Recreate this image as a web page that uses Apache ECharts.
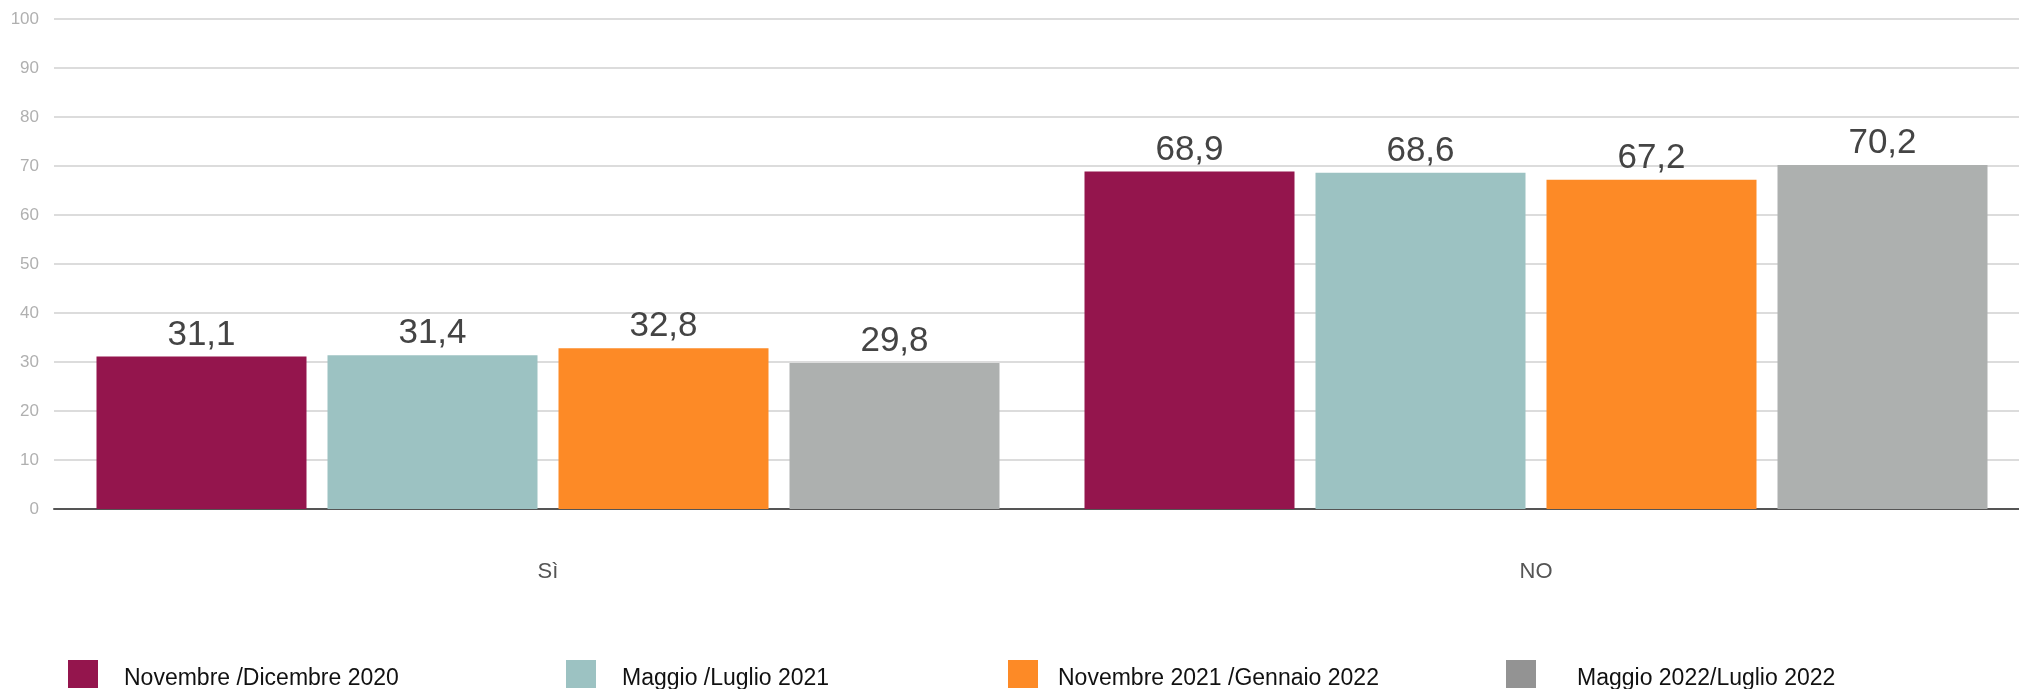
<!DOCTYPE html>
<html>
<head>
<meta charset="utf-8">
<script src="https://cdn.jsdelivr.net/npm/echarts@6/dist/echarts.min.js"></script>
<style>html,body{margin:0;padding:0;background:#fff}#c{width:2019px;height:689px}</style>
</head>
<body>
<div id="c"></div>
<script>
const categories = ['Sì', 'NO'];
const seriesNames = ['Novembre /Dicembre 2020', 'Maggio /Luglio 2021', 'Novembre 2021 /Gennaio 2022', 'Maggio 2022/Luglio 2022'];
const s1 = [31.1, 68.9];
const s2 = [31.4, 68.6];
const s3 = [32.8, 67.2];
const s4 = [29.8, 70.2];
const barColors = ['#94154d', '#9cc2c2', '#fd8a26', '#adb0af'];
const legendColors = ['#94154d', '#9cc2c2', '#fd8a26', '#939393'];
const legendLeft = [68, 566, 1008, 1506];
const legendTextPad = [21, 21, 15, 36];

const font = '"Liberation Sans", Arial, Helvetica, sans-serif';
const values = [s1, s2, s3, s4];

const chart = echarts.init(document.getElementById('c'), null, {renderer: 'canvas'});
chart.setOption({
  animation: false,
  textStyle: {fontFamily: font},
  grid: {left: 54, right: -11, top: 19, bottom: 180, containLabel: false, outerBoundsMode: 'none'},
  legend: seriesNames.map((n, i) => ({
    left: legendLeft[i], top: 660, padding: 0,
    itemWidth: 30, itemHeight: 28, icon: 'rect',
    data: [{name: n, itemStyle: {color: legendColors[i]}}],
    formatter: '{t|{name}}',
    textStyle: {fontSize: 23, color: '#111', fontFamily: font, padding: [0, 0, 0, legendTextPad[i]],
      rich: {t: {fontSize: 23, color: '#111', fontFamily: font, padding: [9, 0, 0, 0]}}}
  })),
  xAxis: {
    type: 'category', data: categories,
    axisLine: {show: true, lineStyle: {color: '#555', width: 2}},
    axisTick: {show: false},
    axisLabel: {fontSize: 22, color: '#555', margin: 52, fontFamily: font}
  },
  yAxis: {
    type: 'value', min: 0, max: 100, interval: 10,
    axisLine: {show: false}, axisTick: {show: false},
    axisLabel: {fontSize: 17, color: '#b0b0b0', margin: 15, fontFamily: font},
    splitLine: {lineStyle: {color: '#d0d0d0', width: 1.5}}
  },
  series: values.map((v, i) => ({
    name: seriesNames[i], type: 'bar', data: v,
    barWidth: 210, barGap: '10%',
    itemStyle: {color: barColors[i]},
    label: {show: true, position: 'top', distance: 4, fontSize: 35, color: '#444', fontFamily: font,
      formatter: p => p.value.toFixed(1).replace('.', ',')}
  }))
});
</script>
</body>
</html>
